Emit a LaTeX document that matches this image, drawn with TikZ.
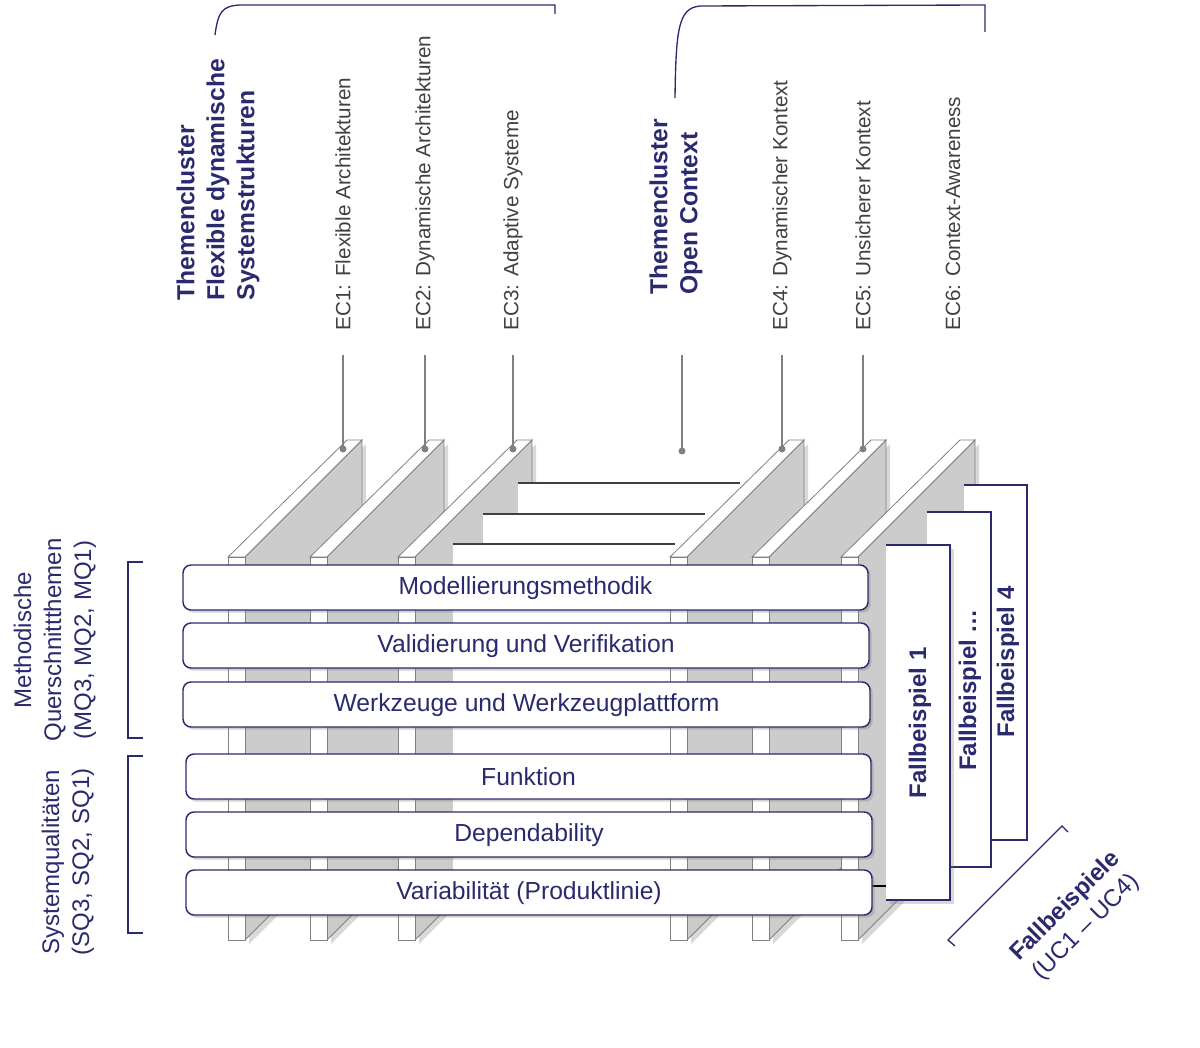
\documentclass[tikz,border=0pt]{standalone}
\usepackage{fontspec}
\setmainfont{Liberation Sans}
\usetikzlibrary{shadows}
\definecolor{navy}{HTML}{2A2A6F}
\definecolor{wallgray}{HTML}{CCCCCC}
\definecolor{edge}{HTML}{808080}
\begin{document}
\begin{tikzpicture}[x=0.75pt,y=-0.75pt,
  bar/.style={draw=navy,line width=1.1pt,fill=white,rounded corners=6pt,drop shadow={opacity=0.35,shadow xshift=2pt,shadow yshift=-2pt}},
  bartext/.style={text=navy,font=\fontsize{18.5}{20}\selectfont},
  eclab/.style={rotate=90,anchor=west,text=black!75,font=\fontsize{15.5}{17}\selectfont},
  tclab/.style={rotate=90,anchor=west,text=navy,font=\bfseries\fontsize{18.5}{22.5}\selectfont,align=left},
  sidelab/.style={rotate=90,text=navy,font=\fontsize{18}{22.5}\selectfont,align=center},
  case/.style={fill=white},
  caseedge/.style={draw=navy,line width=1pt},
  casetext/.style={rotate=90,text=navy,font=\bfseries\fontsize{18}{20}\selectfont},
  brk/.style={draw=navy,line width=1pt},
  pin/.style={draw=edge,line width=0.8pt},
  stepfill/.style={fill=white},
  stepline/.style={draw=black!75,line width=1.2pt}]
\useasboundingbox (0,0) rectangle (1200,1048);
\newcommand\wall[1]{%
  \fill[black!30,opacity=0.5] (#1+21,561) -- (#1+138,444) -- (#1+138,827) -- (#1+21,944) -- cycle;
  \filldraw[fill=wallgray,draw=edge,line width=0.6pt] (#1+17,557) -- (#1+134,440) -- (#1+134,823) -- (#1+17,940) -- cycle;
  \filldraw[fill=white,draw=edge,line width=0.6pt] (#1,557) -- (#1+119,440) -- (#1+134,440) -- (#1+17,557) -- cycle;
  \filldraw[fill=white,draw=edge,line width=0.6pt] (#1,557) rectangle (#1+17,940);
}
\wall{228}\wall{310}\wall{398}
\fill[stepfill] (518,483) rectangle (740,940);
\fill[stepfill] (483,514) rectangle (705,940);
\fill[stepfill] (453,544) rectangle (675,940);
\draw[stepline] (518,483) -- (740,483);
\draw[stepline] (483,514) -- (705,514);
\draw[stepline] (453,544) -- (675,544);
\wall{670}\wall{752}\wall{841}
\foreach \x in {343,425,513,782,863}{
  \fill[edge] (\x,449) circle (3.5);
  \draw[pin] (\x,449) -- (\x,355);
}
\fill[edge] (682,451) circle (3.5);
\draw[pin] (682,451) -- (682,355);
\fill[case] (964,485) rectangle (1027,840);
\draw[caseedge] (964,485) -- (1027,485) -- (1027,840) -- (992,840);
\node[casetext] (c4) at (1008,662) {Fallbeispiel 4};
\fill[case] (927,512) rectangle (991,867);
\draw[caseedge] (927,512) -- (991,512) -- (991,867) -- (951,867);
\node[casetext] (c2) at (970,690) {Fallbeispiel \dots};
\fill[case,drop shadow={opacity=0.3}] (886,545) rectangle (950,900);
\draw[caseedge] (886,545) -- (950,545) -- (950,900) -- (886,900);
\node[casetext] (c1) at (920,723) {Fallbeispiel 1};
\draw[black,line width=1pt] (872,886) -- (886,886);
\foreach \y/\xa/\xb/\t in {565/183/868/Modellierungsmethodik,623/183/869/Validierung und Verifikation,682/183/870/Werkzeuge und Werkzeugplattform,754/186/871/Funktion,812/186/872/Dependability,870/186/872/Variabilität (Produktlinie)}{
  \draw[bar] (\xa,\y) rectangle (\xb,\y+45);
  \node[bartext] at ({(\xa+\xb)/2},\y+23) {\t};
}
\node[tclab] (t1) at (218,305) {Themencluster\\Flexible dynamische\\Systemstrukturen};
\node[tclab] (t2) at (676,299) {Themencluster\\Open Context};
\foreach \x/\t in {343/EC1: Flexible Architekturen,425/EC2: Dynamische Architekturen,513/EC3: Adaptive Systeme,782/EC4: Dynamischer Kontext,863/EC5: Unsicherer Kontext,953/EC6: Context-Awareness}{
  \node[eclab] at (\x,335) {\t};
}
\draw[brk] (215,35) .. controls (218,12) and (222,6) .. (240,5) -- (555,5) -- (555,14);
\draw[brk] (675,98) .. controls (676,30) and (678,8) .. (700,6) -- (985,5) -- (985,32);
\draw[brk] (143,562) -- (128,562) -- (128,738) -- (143,738);
\draw[brk] (143,756) -- (128,756) -- (128,933) -- (143,933);
\node[sidelab] (m) at (55,640) {Methodische\\Querschnittthemen\\(MQ3, MQ2, MQ1)};
\node[sidelab] (s) at (68,862) {Systemqualitäten\\(SQ3, SQ2, SQ1)};
\draw[brk] (955,946) -- (948,940) -- (1062,826) -- (1068,832);
\node[rotate=45,text=navy,align=center,font=\fontsize{18}{22}\selectfont] (fb) at (1076,917) {\textbf{Fallbeispiele}\\(UC1 – UC4)};
\end{tikzpicture}
\end{document}
